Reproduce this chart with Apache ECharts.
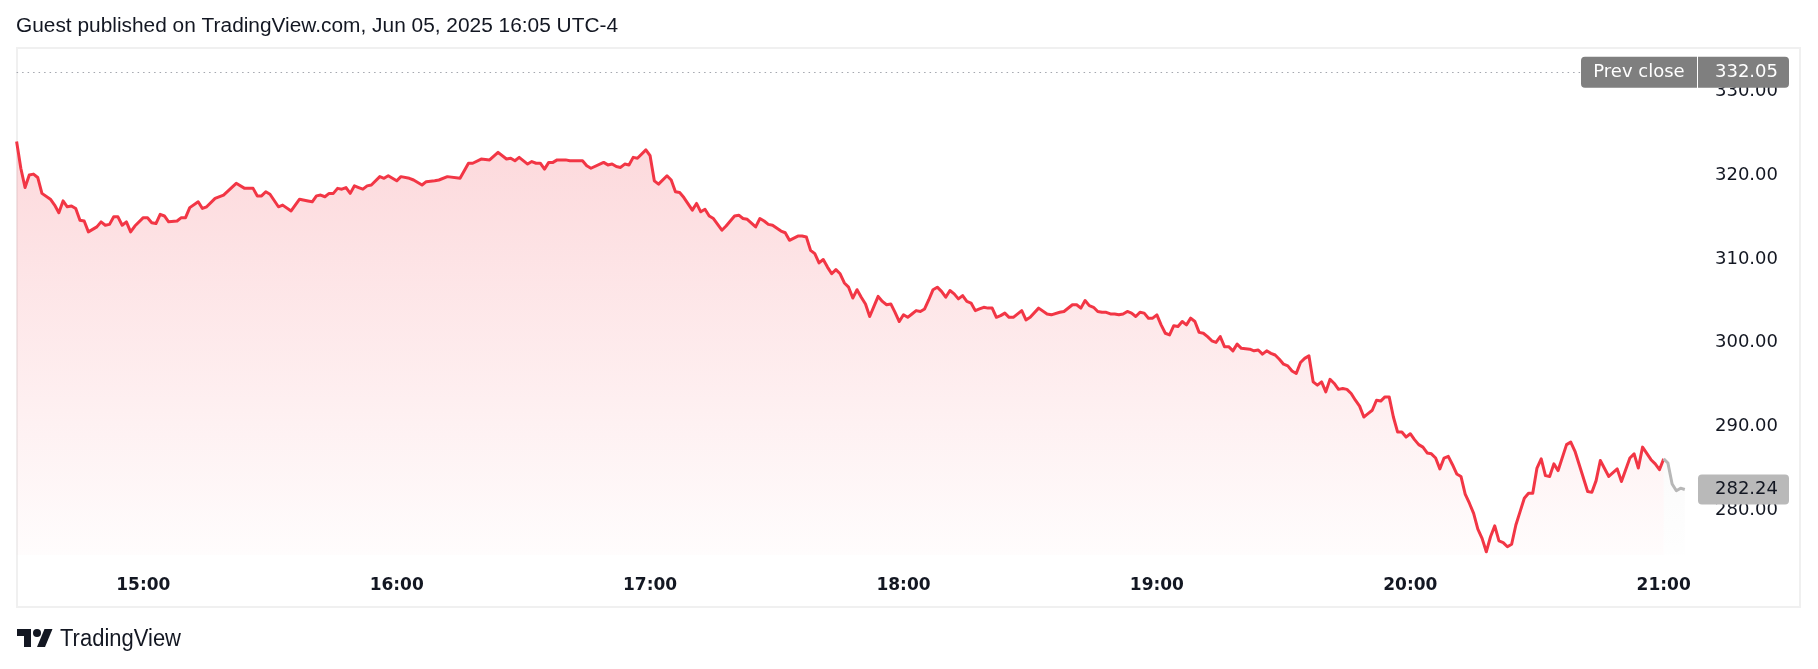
<!DOCTYPE html>
<html><head><meta charset="utf-8">
<script src="https://cdn.jsdelivr.net/npm/echarts@6/dist/echarts.min.js"></script>
<style>html,body{margin:0;padding:0;background:#fff;}#c{width:1818px;height:669px;}</style>
</head><body><div id="c"></div>
<script>
const titleText = 'Guest published on TradingView.com, Jun 05, 2025 16:05 UTC-4';
const brandText = 'TradingView';
const sessionStart = '14:30';
const hourTicks = ['15:00','16:00','17:00','18:00','19:00','20:00','21:00'];
const priceTicks = [280, 290, 300, 310, 320, 330];
const prevClose = 332.05;
const lastPrice = 282.24;

// minutes after session start, and prices (regular session, red)
const redOffsets = [0,1,2,3,4,5,6,8,9,10,11,12,13,14,15,16,17,19,20,21,22,23,24,25,26,27,28,30,31,32,33,34,35,36,38,39,40,41,43,44,45,47,49,52,54,56,57,58,59,60,62,63,65,67,69,70,71,72,73,74,75,76,77,78,79,80,81,82,83,84,86,87,88,90,91,93,94,96,97,99,100,102,105,107,108,110,112,114,116,117,118,119,121,122,123,124,125,126,127,128,130,131,134,135,136,139,140,141,142,143,144,145,146,147,149,150,151,152,154,155,156,157,158,160,161,162,163,164,165,167,168,170,171,172,173,175,176,177,178,179,181,182,183,185,186,187,188,189,190,191,192,193,194,195,196,197,198,199,200,201,202,203,204,205,206,207,208,209,210,211,212,213,214,215,216,217,218,219,220,221,222,223,224,225,226,227,228,229,230,231,232,233,234,235,236,238,239,240,242,244,245,247,248,250,251,252,253,254,255,256,257,258,259,260,261,262,263,264,265,266,267,268,269,270,271,272,273,274,275,276,277,278,279,280,281,282,283,284,285,286,287,288,289,290,292,293,294,295,296,297,298,299,300,301,302,303,304,305,306,307,308,309,310,311,312,313,314,315,316,317,318,319,320,321,322,323,324,325,326,327,328,329,330,331,332,333,334,335,336,337,338,339,340,341,342,343,344,345,346,347,348,349,350,351,352,353,354,355,356,357,358,359,360,361,362,363,364,365,367,368,369,372,373,374,375,377,379,380,382,383,384,385,387,388,389,390];
const redPrices = [323.8,320.6,318.3,319.8,319.9,319.5,317.6,316.9,316.2,315.3,316.7,316.0,316.1,315.8,314.4,314.3,313.0,313.6,314.2,313.8,313.9,314.8,314.8,313.8,314.2,313.0,313.7,314.7,314.7,314.1,314.0,315.1,314.9,314.2,314.3,314.7,314.7,315.9,316.6,315.8,316.0,317.0,317.4,318.8,318.2,318.2,317.3,317.3,317.8,317.5,316.0,316.2,315.5,316.9,316.7,316.6,317.3,317.4,317.2,317.6,317.6,318.2,318.1,318.3,317.6,318.5,318.3,318.1,318.5,318.6,319.6,319.4,319.7,319.1,319.6,319.4,319.2,318.6,319.0,319.1,319.2,319.6,319.4,321.2,321.2,321.7,321.6,322.5,321.7,321.8,321.5,321.9,321.1,321.4,321.2,321.2,320.5,321.3,321.3,321.6,321.6,321.5,321.5,320.9,320.6,321.3,321.0,321.1,320.8,320.7,321.1,321.0,321.9,321.8,322.8,322.1,319.1,318.7,319.7,319.2,317.8,317.7,317.1,315.6,316.4,315.4,315.7,314.9,314.6,313.2,313.7,314.9,315.0,314.6,314.5,313.6,314.6,314.3,313.9,313.8,313.1,312.9,312.0,312.5,312.5,312.4,310.8,310.4,309.3,309.7,308.8,308.0,308.5,308.0,306.9,306.4,305.1,306.1,305.2,304.4,302.9,304.1,305.3,304.7,304.3,304.4,303.4,302.3,303.1,302.8,303.2,303.6,303.5,303.8,304.9,306.1,306.4,305.9,305.2,306.0,305.6,305.0,305.4,304.7,304.5,303.6,303.8,304.0,303.9,303.9,302.8,303.0,303.3,302.8,302.8,303.6,302.5,302.8,303.9,303.2,303.1,303.4,303.5,304.3,304.3,303.9,304.8,304.2,304.0,303.5,303.4,303.4,303.2,303.2,303.1,303.2,303.5,303.3,302.9,303.4,303.3,302.7,302.7,303.1,301.9,300.9,300.7,301.8,301.7,302.3,301.9,302.7,302.3,301.0,300.9,300.5,300.0,299.8,300.5,299.3,299.3,298.8,299.6,299.1,299.0,298.8,298.9,298.4,298.8,298.5,298.3,297.8,297.2,297.0,296.4,296.1,297.4,297.9,298.2,295.1,294.7,295.1,293.9,295.4,294.9,294.2,294.3,294.2,293.7,292.9,292.2,290.9,291.3,291.7,292.9,292.8,293.3,293.3,290.9,289.1,289.1,288.5,288.9,288.2,287.6,287.3,286.6,286.5,286.0,284.7,286.0,286.2,285.2,284.1,283.8,281.7,280.6,279.4,277.5,276.4,274.8,276.6,277.9,276.1,275.9,275.4,275.7,278.0,279.6,281.2,281.8,281.8,284.8,285.9,283.9,283.8,285.3,284.5,287.6,287.9,286.8,282.0,281.9,283.3,285.7,283.8,284.7,283.2,286.0,286.5,284.8,287.3,285.8,285.3,284.6,285.9];
// after-hours (gray)
const grayOffsets = [390,391,392,393,394,395];
const grayPrices = [285.9,285.4,282.9,282.1,282.4,282.24];

function toMin(s){ const p = s.split(':'); return (+p[0])*60 + (+p[1]); }
function fmtMin(v){ const h = Math.floor(v/60), m = Math.round(v - h*60); return String(h).padStart(2,'0') + ':' + String(m).padStart(2,'0'); }
const t0 = toMin(sessionStart);
const redData = redOffsets.map((o,i) => [t0 + o, redPrices[i]]);
const grayData = grayOffsets.map((o,i) => [t0 + o, grayPrices[i]]);

const FONT = "'DejaVu Sans', sans-serif";
const chart = echarts.init(document.getElementById('c'), null, {renderer: 'canvas'});
const option = {
  animation: false,
  backgroundColor: '#ffffff',
  grid: {left: 16.6, right: 118, top: 48, bottom: 114, containLabel: false, outerBoundsMode: 'none'},
  xAxis: {
    type: 'value', min: t0, max: t0 + 398.6,
    axisLine: {show: false}, axisTick: {show: false}, splitLine: {show: false},
    axisLabel: {
      customValues: hourTicks.map(toMin),
      formatter: v => fmtMin(v),
      color: '#131722', fontFamily: FONT, fontSize: 17, fontWeight: 'bold', margin: 22, lineHeight: 17
    }
  },
  yAxis: {
    type: 'value', position: 'right', min: 274.42, max: 334.96, scale: true,
    axisLine: {show: false}, axisTick: {show: false}, splitLine: {show: false},
    axisLabel: {
      customValues: priceTicks,
      formatter: v => v.toFixed(2),
      align: 'right', margin: 78, verticalAlign: 'top', lineHeight: 18, padding: [-7, 0, 0, 0],
      color: '#131722', fontFamily: FONT, fontSize: 18
    }
  },
  series: [
    {
      type: 'line', data: redData, showSymbol: false, symbol: 'none', z: 3,
      lineStyle: {color: '#f23645', width: 3, join: 'round'},
      areaStyle: {color: new echarts.graphic.LinearGradient(0,0,0,1,[
        {offset: 0, color: 'rgba(242,54,69,0.27)'},
        {offset: 1, color: 'rgba(242,54,69,0.02)'}])},
      markLine: {
        silent: true, symbol: 'none', label: {show: false},
        lineStyle: {color: '#a3a6ae', width: 1, type: [1.5, 4]},
        data: [{yAxis: prevClose}]
      }
    },
    {
      type: 'line', data: grayData, showSymbol: false, symbol: 'none', z: 3,
      lineStyle: {color: '#b7b7b7', width: 3, join: 'round'},
      areaStyle: {color: new echarts.graphic.LinearGradient(0,0,0,1,[
        {offset: 0, color: 'rgba(200,200,200,0.12)'},
        {offset: 1, color: 'rgba(200,200,200,0.02)'}])}
    }
  ]
};
chart.setOption(option);

const yPrev = chart.convertToPixel({yAxisIndex: 0}, prevClose);
const yLast = chart.convertToPixel({yAxisIndex: 0}, lastPrice);
const mctx = document.createElement('canvas').getContext('2d');
function measure(text, font){ mctx.font = font; return mctx.measureText(text).width; }
const titleFont = "20px 'Liberation Sans'";
const titleScale = 602 / measure(titleText, titleFont);
const brandFont = "23px 'Liberation Sans'";
const brandScale = 121 / measure(brandText, brandFont);

chart.setOption({
  graphic: [
    {type: 'rect', z: 0, silent: true, shape: {x: 17, y: 48, width: 1783, height: 559},
     style: {fill: 'none', stroke: '#f0f0f0', lineWidth: 2}},
    {type: 'text', z: 10, x: 16, y: 26.5, scaleX: titleScale,
     style: {x: 0, y: 0, text: titleText, font: titleFont, fill: '#131722', verticalAlign: 'middle', align: 'left'}},
    // prev close label
    {type: 'rect', z: 20, shape: {x: 1581, y: yPrev - 15.5, width: 116, height: 31, r: [4,0,0,4]}, style: {fill: '#7f7f7f'}},
    {type: 'rect', z: 20, shape: {x: 1698, y: yPrev - 15.5, width: 91, height: 31, r: [0,4,4,0]}, style: {fill: '#7f7f7f'}},
    {type: 'text', z: 21, style: {x: 1639, y: yPrev, text: 'Prev close', font: "18px 'DejaVu Sans'", fill: '#ffffff', align: 'center', verticalAlign: 'middle'}},
    {type: 'text', z: 21, style: {x: 1778, y: yPrev, text: prevClose.toFixed(2), font: "18px 'DejaVu Sans'", fill: '#ffffff', align: 'right', verticalAlign: 'middle'}},
    // last price label
    {type: 'rect', z: 20, shape: {x: 1698, y: yLast - 15, width: 91, height: 30, r: 4}, style: {fill: '#b9b9b9'}},
    {type: 'text', z: 21, style: {x: 1778, y: yLast, text: lastPrice.toFixed(2), font: "18px 'DejaVu Sans'", fill: '#131722', align: 'right', verticalAlign: 'middle'}},
    // logo
    {type: 'polygon', z: 10, x: 17, y: 625, shape: {points: [[0,4],[14,4],[14,22],[7,22],[7,11],[0,11]]}, style: {fill: '#131722'}},
    {type: 'circle', z: 10, x: 17, y: 625, shape: {cx: 20, cy: 8, r: 4}, style: {fill: '#131722'}},
    {type: 'polygon', z: 10, x: 17, y: 625, shape: {points: [[20,22],[27.5,4],[35.5,4],[28,22]]}, style: {fill: '#131722'}},
    {type: 'text', z: 10, x: 60, y: 639.3, scaleX: brandScale,
     style: {x: 0, y: 0, text: brandText, font: brandFont, fill: '#131722', verticalAlign: 'middle', align: 'left'}}
  ]
});
</script>
</body></html>
